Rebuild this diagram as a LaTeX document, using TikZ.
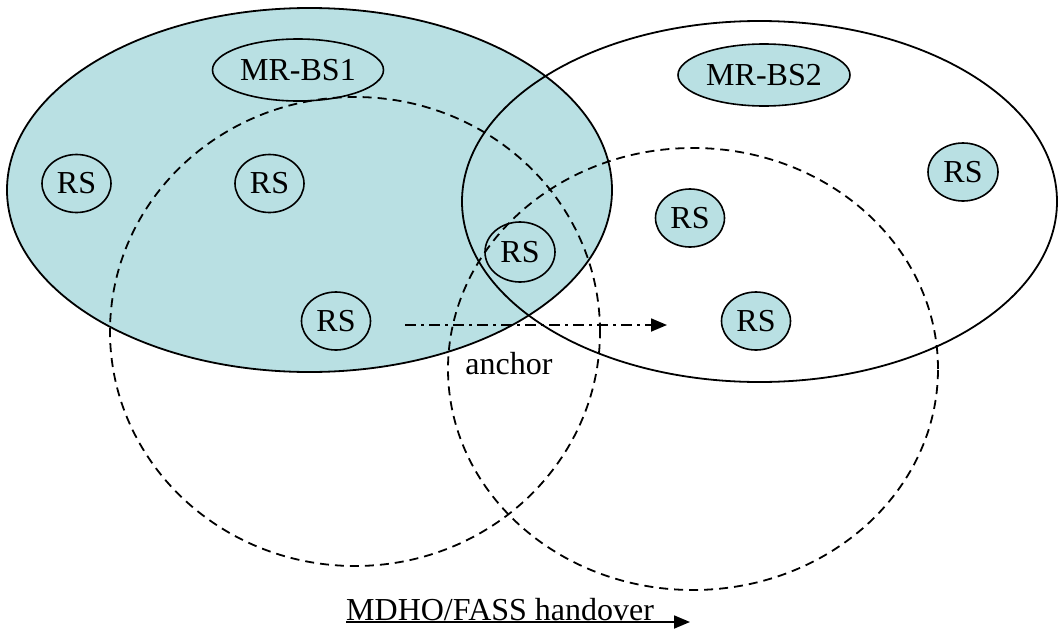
\documentclass[tikz,border=0pt]{standalone}
\usepackage{fontspec}
\setmainfont{Liberation Serif}
\usetikzlibrary{shapes.geometric,arrows.meta}
\definecolor{cellblue}{RGB}{185,224,227}
\tikzset{
  zone/.style={ellipse, draw=black, line width=1.8pt, inner sep=0pt},
  cover/.style={ellipse, draw=black, line width=1.8pt, dash pattern=on 9pt off 6pt, inner sep=0pt},
  station/.style={ellipse, draw=black, line width=1.6pt, inner sep=0pt, font=\fontsize{32}{36}\selectfont},
  lbl/.style={inner sep=0pt, font=\fontsize{32}{36}\selectfont},
  move/.style={line width=1.8pt, dash pattern=on 11pt off 5pt on 3pt off 5pt, -{Triangle[length=16pt,width=13pt]}},
  handover/.style={line width=1.8pt, -{Triangle[length=16pt,width=13pt]}}
}
\begin{document}
\begin{tikzpicture}[x=1pt,y=-1pt]
\useasboundingbox (0,0) rectangle (1058,632);
% big cells
\node[zone, fill=cellblue, minimum width=605pt, minimum height=364pt] (cell1) at (309.5,190) {};
\node[zone, minimum width=595pt, minimum height=361pt] (cell2) at (759.5,201.5) {};
% coverage circles
\node[cover, minimum width=490pt, minimum height=469pt] (cov1) at (355,331.5) {};
\node[cover, minimum width=490pt, minimum height=442pt] (cov2) at (693,369) {};
% base stations
\node[station, minimum width=171pt, minimum height=62pt] (bs1) at (298,70) {MR-BS1};
\node[station, fill=cellblue, minimum width=172pt, minimum height=62pt] (bs2) at (764,75) {MR-BS2};
% relay stations
\node[station, minimum width=69pt, minimum height=58pt] (rs1) at (76.5,183.5) {RS};
\node[station, minimum width=69pt, minimum height=58pt] (rs2) at (269.5,183.5) {RS};
\node[station, minimum width=70pt, minimum height=60pt] (rs3) at (520,252) {RS};
\node[station, minimum width=69pt, minimum height=58pt] (rs4) at (336,321) {RS};
\node[station, fill=cellblue, minimum width=70pt, minimum height=58pt] (rs5) at (963,172) {RS};
\node[station, fill=cellblue, minimum width=69pt, minimum height=58pt] (rs6) at (690,218) {RS};
\node[station, fill=cellblue, minimum width=69pt, minimum height=58pt] (rs7) at (756,321) {RS};
% movement arrow
\coordinate (mstart) at (405,325);
\coordinate (mend) at (667,325);
\draw[move] (mstart) -- (mend);
\node[lbl] (anchor) at (509,364) {anchor};
% handover legend
\node[lbl, anchor=base west] (ho) at (346,620) {MDHO/FASS handover};
\coordinate (hoend) at (690,622);
\draw[handover] ([yshift=-2pt]ho.base west) -- (hoend);
\end{tikzpicture}
\end{document}
